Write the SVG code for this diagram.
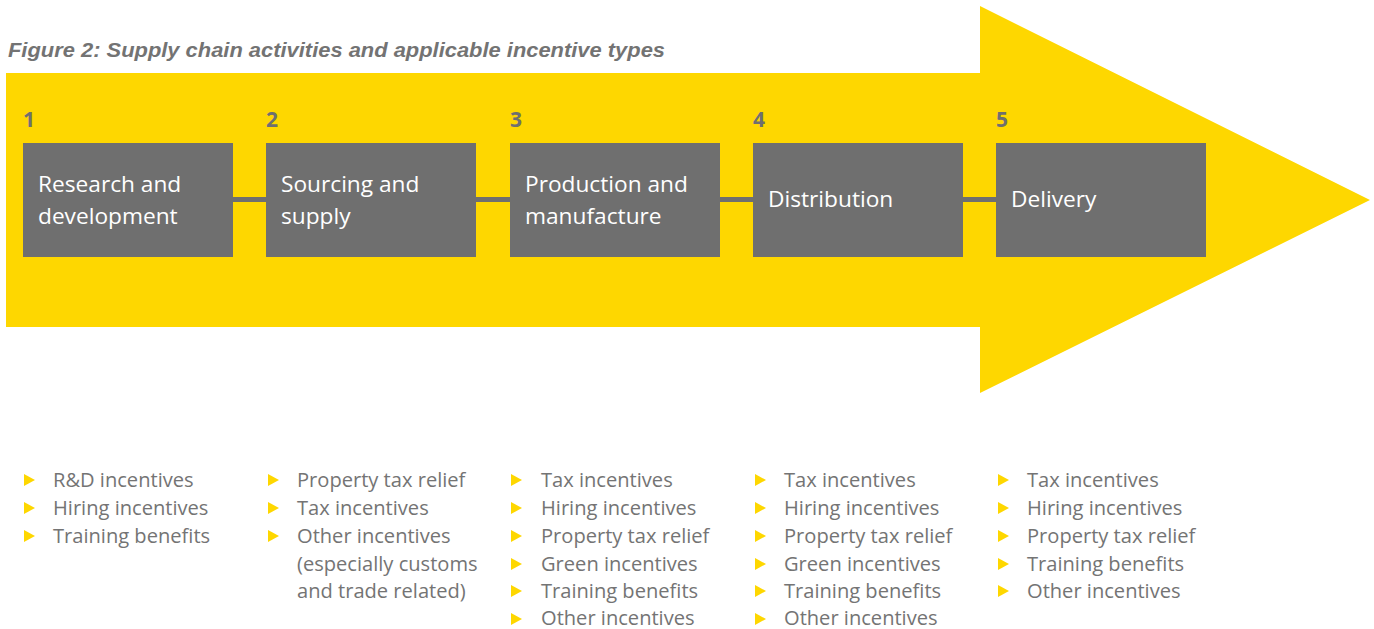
<svg xmlns="http://www.w3.org/2000/svg" width="1374" height="629" viewBox="0 0 1374 629">
<style>
.title{font-family:"Liberation Sans",Arial,sans-serif;font-weight:bold;font-style:italic;font-size:20px;fill:#737373}
.num{font-family:"Open Sans","Liberation Sans",sans-serif;font-weight:bold;font-size:21px;fill:#6f6f6f}
.box{fill:#6f6f6f}
.lbl{font-family:"Open Sans","Liberation Sans",sans-serif;font-size:22.7px;fill:#ffffff}
.item{font-family:"Open Sans","Liberation Sans",sans-serif;font-size:20.1px;fill:#747474}
.bul{fill:#fed700}
.conn{stroke:#6f6f6f;stroke-width:5;fill:none}
</style>
<defs>
<path id="tri" class="bul" d="M0,-6 L11,0 L0,6 Z"/>
</defs>
<polygon id="arrow" points="6,73 980,73 980,6 1370,200 980,393 980,327 6,327" fill="#fed700"/>
<text class="title" x="8" y="57" textLength="657" lengthAdjust="spacingAndGlyphs">Figure 2: Supply chain activities and applicable incentive types</text>
<g id="connectors">
<line class="conn" x1="233" y1="199.5" x2="266" y2="199.5"/>
<line class="conn" x1="476" y1="199.5" x2="510" y2="199.5"/>
<line class="conn" x1="720" y1="199.5" x2="753" y2="199.5"/>
<line class="conn" x1="963" y1="199.5" x2="996" y2="199.5"/>
</g>
<g id="step1">
<text class="num" x="23" y="127">1</text>
<rect class="box" x="23" y="143" width="210" height="114"/>
<text class="lbl" x="38" y="192">Research and</text>
<text class="lbl" x="38" y="224">development</text>
</g>
<g id="step2">
<text class="num" x="266" y="127">2</text>
<rect class="box" x="266" y="143" width="210" height="114"/>
<text class="lbl" x="281" y="192">Sourcing and</text>
<text class="lbl" x="281" y="224">supply</text>
</g>
<g id="step3">
<text class="num" x="510" y="127">3</text>
<rect class="box" x="510" y="143" width="210" height="114"/>
<text class="lbl" x="525" y="192">Production and</text>
<text class="lbl" x="525" y="224">manufacture</text>
</g>
<g id="step4">
<text class="num" x="753" y="127">4</text>
<rect class="box" x="753" y="143" width="210" height="114"/>
<text class="lbl" x="768" y="207">Distribution</text>
</g>
<g id="step5">
<text class="num" x="996" y="127">5</text>
<rect class="box" x="996" y="143" width="210" height="114"/>
<text class="lbl" x="1011" y="207">Delivery</text>
</g>
<g id="list1">
<use href="#tri" x="24" y="480"/><text class="item" x="53" y="487">R&amp;D incentives</text>
<use href="#tri" x="24" y="508"/><text class="item" x="53" y="515">Hiring incentives</text>
<use href="#tri" x="24" y="536"/><text class="item" x="53" y="543">Training benefits</text>
</g>
<g id="list2">
<use href="#tri" x="268" y="480"/><text class="item" x="297" y="487">Property tax relief</text>
<use href="#tri" x="268" y="508"/><text class="item" x="297" y="515">Tax incentives</text>
<use href="#tri" x="268" y="536"/><text class="item" x="297" y="543">Other incentives</text>
<text class="item" x="297" y="571">(especially customs</text>
<text class="item" x="297" y="598">and trade related)</text>
</g>
<g id="list3">
<use href="#tri" x="511" y="480"/><text class="item" x="541" y="487">Tax incentives</text>
<use href="#tri" x="511" y="508"/><text class="item" x="541" y="515">Hiring incentives</text>
<use href="#tri" x="511" y="536"/><text class="item" x="541" y="543">Property tax relief</text>
<use href="#tri" x="511" y="564"/><text class="item" x="541" y="571">Green incentives</text>
<use href="#tri" x="511" y="591"/><text class="item" x="541" y="598">Training benefits</text>
<use href="#tri" x="511" y="619"/><text class="item" x="541" y="625">Other incentives</text>
</g>
<g id="list4">
<use href="#tri" x="755" y="480"/><text class="item" x="784" y="487">Tax incentives</text>
<use href="#tri" x="755" y="508"/><text class="item" x="784" y="515">Hiring incentives</text>
<use href="#tri" x="755" y="536"/><text class="item" x="784" y="543">Property tax relief</text>
<use href="#tri" x="755" y="564"/><text class="item" x="784" y="571">Green incentives</text>
<use href="#tri" x="755" y="591"/><text class="item" x="784" y="598">Training benefits</text>
<use href="#tri" x="755" y="619"/><text class="item" x="784" y="625">Other incentives</text>
</g>
<g id="list5">
<use href="#tri" x="998" y="480"/><text class="item" x="1027" y="487">Tax incentives</text>
<use href="#tri" x="998" y="508"/><text class="item" x="1027" y="515">Hiring incentives</text>
<use href="#tri" x="998" y="536"/><text class="item" x="1027" y="543">Property tax relief</text>
<use href="#tri" x="998" y="564"/><text class="item" x="1027" y="571">Training benefits</text>
<use href="#tri" x="998" y="591"/><text class="item" x="1027" y="598">Other incentives</text>
</g>
</svg>
